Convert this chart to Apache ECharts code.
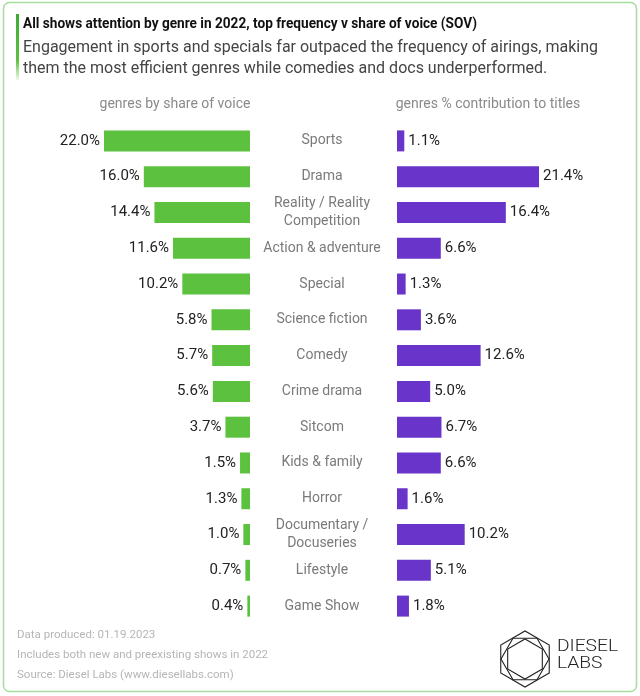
<!DOCTYPE html>
<html><head><meta charset="utf-8">
<script src="https://cdn.jsdelivr.net/npm/echarts@6/dist/echarts.min.js"></script>
<style>html,body{margin:0;padding:0;background:#fff}#c{width:640px;height:696px}</style>
</head><body><div id="c"></div>
<script>
const categories = ['Sports','Drama','Reality / Reality\nCompetition','Action & adventure','Special','Science fiction','Comedy','Crime drama','Sitcom','Kids & family','Horror','Documentary /\nDocuseries','Lifestyle','Game Show'];
const shareOfVoice = [22.0,16.0,14.4,11.6,10.2,5.8,5.7,5.6,3.7,1.5,1.3,1.0,0.7,0.4];
const titleContribution = [1.1,21.4,16.4,6.6,1.3,3.6,12.6,5.0,6.7,6.6,1.6,10.2,5.1,1.8];
const leftHeader = 'genres by share of voice';
const rightHeader = 'genres % contribution to titles';
const footerLines = ['Data produced: 01.19.2023','Includes both new and preexisting shows in 2022','Source: Diesel Labs (www.diesellabs.com)'];

const FONT = 'Roboto, "Open Sans", sans-serif';
const GREEN = '#5cc13f', PURPLE = '#6934c9';
const chart = echarts.init(document.getElementById('c'));

function hexPts(cx, cy, r, rot){
  const p=[];for(let i=0;i<6;i++){const a=rot+i*Math.PI/3;p.push([cx+r*Math.cos(a),cy+r*Math.sin(a)]);}return p;
}

chart.setOption({
  animation:false,
  grid:[
    {left:104, width:146, top:123, height:501},
    {left:397, width:146, top:123, height:501}
  ],
  xAxis:[
    {gridIndex:0, type:'value', min:0, max:22, inverse:true, show:false},
    {gridIndex:1, type:'value', min:0, max:22, show:false}
  ],
  yAxis:[
    {gridIndex:0, type:'category', data:categories, inverse:true, show:false},
    {gridIndex:1, type:'category', data:categories, inverse:true, position:'left',
     axisLine:{show:false}, axisTick:{show:false},
     axisLabel:{show:true, margin:75, align:'center', color:'#7a7a7a', fontSize:14, fontFamily:FONT, lineHeight:18}}
  ],
  series:[
    {type:'bar', xAxisIndex:0, yAxisIndex:0, data:shareOfVoice, barWidth:21,
     itemStyle:{color:GREEN},
     label:{show:true, position:'left', distance:4, color:'#222', fontSize:15, fontFamily:FONT, formatter:p=>p.value.toFixed(1)+'%'}},
    {type:'bar', xAxisIndex:1, yAxisIndex:1, data:titleContribution, barWidth:21,
     itemStyle:{color:PURPLE},
     label:{show:true, position:'right', distance:4, color:'#222', fontSize:15, fontFamily:FONT, formatter:p=>p.value.toFixed(1)+'%'}}
  ],
  graphic:[
    {type:'rect', shape:{x:3.5,y:2.5,width:633,height:689,r:6}, style:{fill:'none', stroke:'#a6dea0', lineWidth:1.5}},
    {type:'rect', shape:{x:16,y:14,width:3,height:66},
     style:{fill:new echarts.graphic.LinearGradient(0,0,0,1,[{offset:0,color:'#3daa35'},{offset:0.7,color:'#5cc13f'},{offset:1,color:'rgba(92,193,63,0.1)'}])}},
    {type:'text', x:23, y:16, scaleX:0.88, originX:0, originY:0, style:{text:'All shows attention by genre in 2022, top frequency v share of voice (SOV)', fontFamily:FONT, fontWeight:'bold', fontSize:15.5, fill:'#111'}},
    {type:'text', left:23, top:37, style:{text:'Engagement in sports and specials far outpaced the frequency of airings, making\nthem the most efficient genres while comedies and docs underperformed.', fontFamily:FONT, fontSize:16, lineHeight:21, fill:'#444'}},
    {type:'text', x:175, y:104, style:{text:leftHeader, fontFamily:FONT, fontSize:14, fill:'#8a8a8a', align:'center', verticalAlign:'middle'}},
    {type:'text', x:488, y:104, style:{text:rightHeader, fontFamily:FONT, fontSize:14, fill:'#8a8a8a', align:'center', verticalAlign:'middle'}},
    {type:'text', left:17, top:625, style:{text:footerLines.join('\n'), fontFamily:FONT, fontSize:11.5, lineHeight:20, fill:'#b5b5b5'}},
    {type:'polygon', shape:{points:hexPts(525,659,28,Math.PI/6)}, style:{fill:'none', stroke:'#222', lineWidth:1.1}},
    {type:'polygon', shape:{points:hexPts(525,659,24,0)}, style:{fill:'none', stroke:'#222', lineWidth:1.1}},
    {type:'polygon', shape:{points:hexPts(525,659,20,Math.PI/6)}, style:{fill:'none', stroke:'#222', lineWidth:1.1}},
    {type:'text', x:557, y:638, scaleX:1.2, originX:0, originY:0, style:{text:'DIESEL\nLABS', fontFamily:FONT, fontSize:16, lineHeight:17, fill:'#222', fontWeight:300}}
  ]
});
</script></body></html>
